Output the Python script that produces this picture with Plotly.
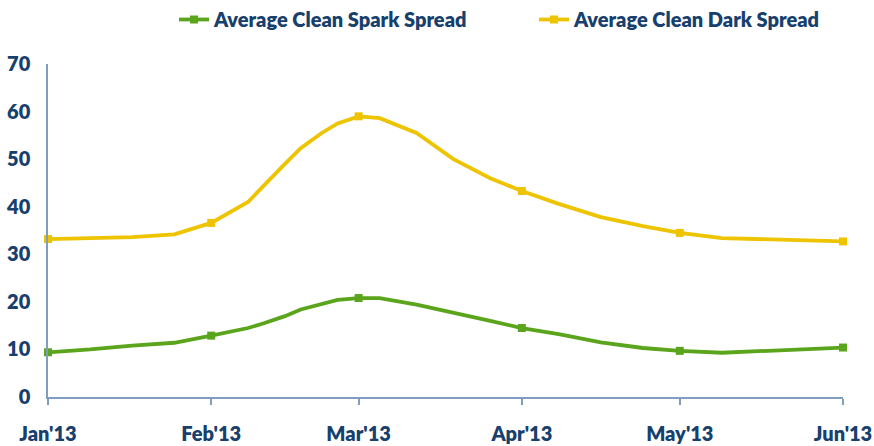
import plotly.graph_objects as go

dates = ["2013-01-01", "2013-01-09", "2013-01-17", "2013-01-25", "2013-02-01", "2013-02-08",
         "2013-02-11", "2013-02-15", "2013-02-18", "2013-02-22", "2013-02-25", "2013-03-01",
         "2013-03-05", "2013-03-12", "2013-03-19", "2013-03-26", "2013-04-01", "2013-04-08",
         "2013-04-16", "2013-04-24", "2013-05-01", "2013-05-09", "2013-06-01"]
spark = [9.4, 10.0, 10.8, 11.4, 12.9, 14.5, 15.5, 17.0, 18.4, 19.6, 20.4, 20.8,
         20.8, 19.4, 17.6, 16.0, 14.5, 13.2, 11.5, 10.3, 9.7, 9.3, 10.4]
dark = [33.2, 33.4, 33.6, 34.2, 36.6, 41.0, 44.5, 49.0, 52.3, 55.5, 57.5, 59.0,
        58.6, 55.5, 50.0, 46.0, 43.3, 40.6, 37.8, 35.9, 34.5, 33.4, 32.7]
month_ticks = ["2013-01-01", "2013-02-01", "2013-03-01", "2013-04-01", "2013-05-01", "2013-06-01"]
month_labels = ["Jan'13", "Feb'13", "Mar'13", "Apr'13", "May'13", "Jun'13"]
series_names = ["Average Clean Spark Spread", "Average Clean Dark Spread"]

GREEN = "#5AA51C"
YELLOW = "#EEC300"
NAVY = "#17406D"
AXIS = "#7F9DBE"
FONT = "Lato"


def marker_colors(color):
    return [color if d in month_ticks else "rgba(0,0,0,0)" for d in dates]


fig = go.Figure()
for name, vals, col in [(series_names[0], spark, GREEN), (series_names[1], dark, YELLOW)]:
    fig.add_trace(go.Scatter(
        x=dates, y=vals, name=name, mode="lines+markers",
        line=dict(color=col, width=3.8),
        marker=dict(symbol="square", size=8, color=marker_colors(col)),
        cliponaxis=False,
    ))

fig.update_layout(
    width=874, height=446,
    margin=dict(l=48, r=31, t=64, b=49, autoexpand=False),
    paper_bgcolor="white", plot_bgcolor="white",
    font=dict(family=FONT, color=NAVY, size=20),
    showlegend=True,
    legend=dict(orientation="h", xref="container", yref="container",
                x=174 / 874, y=1.0, xanchor="left", yanchor="top",
                font=dict(family=FONT, size=20, color=NAVY, weight=800),
                entrywidth=315, entrywidthmode="pixels", itemwidth=30),
    xaxis=dict(type="date", range=["2013-01-01", "2013-06-01"],
               tickvals=month_ticks, ticktext=month_labels, automargin=False,
               showline=True, linecolor=AXIS, linewidth=1.5,
               ticks="outside", ticklen=6, tickcolor=AXIS, tickwidth=1.5,
               ticklabelstandoff=12,
               tickfont=dict(family=FONT, size=20, color=NAVY, weight=800),
               showgrid=False, zeroline=False),
    yaxis=dict(range=[0, 70], dtick=10, tick0=0, automargin=False,
               showline=True, linecolor=AXIS, linewidth=1.5,
               ticks="", ticklabelstandoff=12,
               tickfont=dict(family=FONT, size=20, color=NAVY, weight=800),
               showgrid=False, zeroline=False),
)

fig.write_html("out.html", config={"displayModeBar": False},
               post_script="document.body.style.margin='0';")
